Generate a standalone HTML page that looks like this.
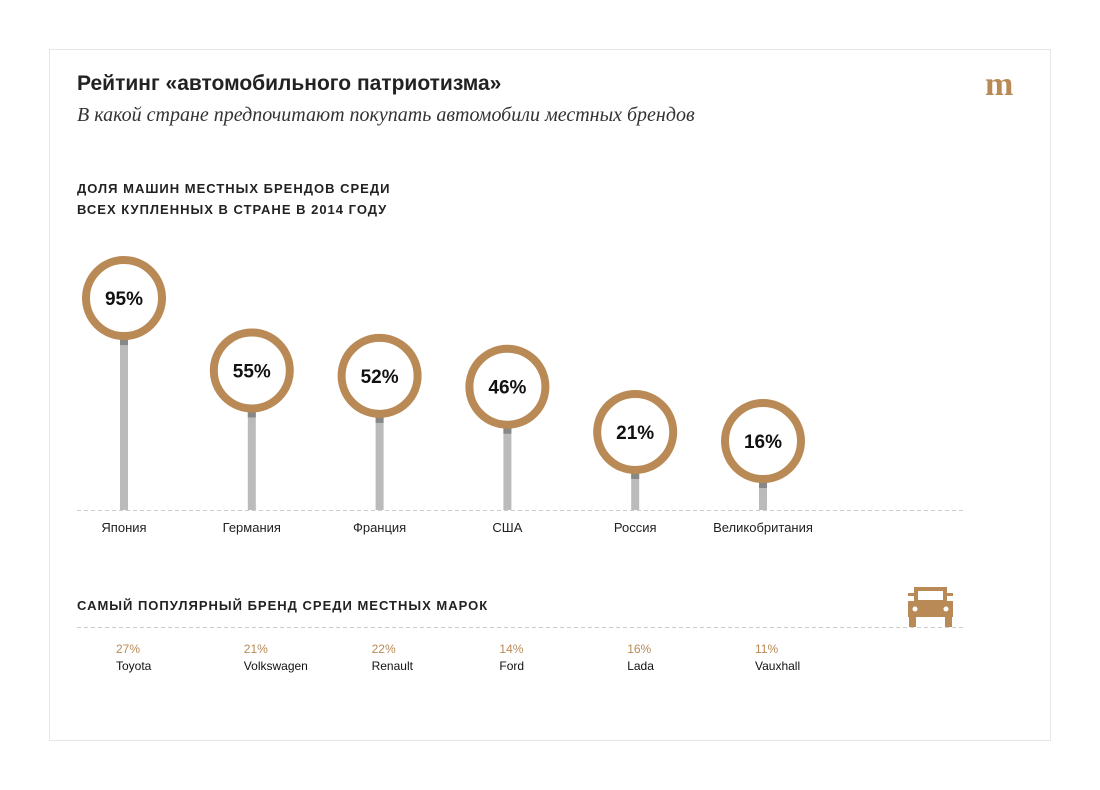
<!DOCTYPE html>
<html><head><meta charset="utf-8"><style>
body{margin:0;background:#fff;font-family:"Liberation Sans",sans-serif;}
#card{position:absolute;left:49px;top:49px;width:1000px;height:690px;border:1px solid #e6e6e6;}
.t{position:absolute;white-space:nowrap;}
</style></head><body>
<div id="card"></div>
<div class="t" style="left:77px;top:72px;font-size:21px;font-weight:bold;color:#222">Рейтинг «автомобильного патриотизма»</div>
<div class="t" style="left:77px;top:104px;font-family:'Liberation Serif',serif;font-style:italic;font-size:20px;color:#333">В какой стране предпочитают покупать автомобили местных брендов</div>
<div class="t" style="left:985px;top:70px;font-family:'Liberation Serif',serif;font-weight:bold;font-size:34px;color:#b98a56;line-height:30px">m</div>
<div class="t" style="left:77px;top:178px;font-size:13px;font-weight:bold;letter-spacing:1px;line-height:21px;color:#222">ДОЛЯ МАШИН МЕСТНЫХ БРЕНДОВ СРЕДИ<br>ВСЕХ КУПЛЕННЫХ В СТРАНЕ В 2014 ГОДУ</div>
<div class="t" style="left:77px;top:598px;font-size:13px;font-weight:bold;letter-spacing:1px;color:#222">САМЫЙ ПОПУЛЯРНЫЙ БРЕНД СРЕДИ МЕСТНЫХ МАРОК</div>
<svg id="chart" width="1100" height="790" style="position:absolute;left:0;top:0">
<line x1="77" y1="510.5" x2="966" y2="510.5" stroke="#ccc" stroke-dasharray="4,3"/>
<line x1="77" y1="627.5" x2="966" y2="627.5" stroke="#ccc" stroke-dasharray="4,3"/>
<g fill="#b98a56">
<rect x="908" y="593" width="45" height="3"/>
<rect x="914" y="587" width="33" height="16"/><rect x="918" y="591" width="25" height="9" fill="#fff"/>
<rect x="908" y="601" width="45" height="16"/>
<rect x="909" y="615" width="7" height="12"/><rect x="945" y="615" width="7" height="12"/>
<circle cx="915" cy="609" r="2.5" fill="#fff"/><circle cx="946" cy="609" r="2.5" fill="#fff"/>
</g>
</svg>
<script>
const countries=["Япония","Германия","Франция","США","Россия","Великобритания"];
const shares=[95,55,52,46,21,16];
const brands=["Toyota","Volkswagen","Renault","Ford","Lada","Vauxhall"];
const brandShares=[27,21,22,14,16,11];
const ns="http://www.w3.org/2000/svg";
const svg=document.getElementById('chart');
const x=i=>124+i*127.8;
const y=v=>470-1.81*v;
const base=510;
function mk(tag,a){const e=document.createElementNS(ns,tag);for(const k in a)e.setAttribute(k,a[k]);svg.appendChild(e);return e;}
shares.forEach((v,i)=>{
 const cx=x(i),cy=y(v);
 const s=mk('rect',{x:cx-4,y:cy+38,width:8,height:base-cy-38,fill:'#bbb'});
 
 
 const d=mk('rect',{x:cx-4,y:cy+38,width:8,height:9,fill:'#888'});
 
 
 const c=mk('circle',{cx:cx,cy:cy,r:38,fill:'#fff',stroke:'#b98a56','stroke-width':8});
 
 
 const t=mk('text',{x:cx,y:cy+7,'text-anchor':'middle','font-size':19,'font-weight':'bold',fill:'#111','font-family':'Liberation Sans'});
 t.textContent=v+'%';
 
 
 const l=mk('text',{x:cx,y:532,'text-anchor':'middle','font-size':13,fill:'#222','font-family':'Liberation Sans'});
 l.textContent=countries[i];
 
 
 const p=mk('text',{x:cx-8,y:653,'font-size':12,fill:'#b98a56','font-family':'Liberation Sans'});
 p.textContent=brandShares[i]+'%';
 
 
 const b=mk('text',{x:cx-8,y:670,'font-size':12,fill:'#111','font-family':'Liberation Sans'});
 b.textContent=brands[i];
 
 
});
</script>
</body></html>
